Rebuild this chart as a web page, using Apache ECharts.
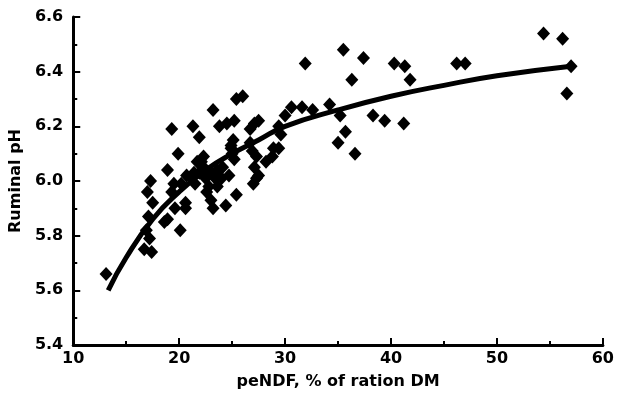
<!DOCTYPE html>
<html>
<head>
<meta charset="utf-8">
<script src="https://cdn.jsdelivr.net/npm/echarts@6/dist/echarts.min.js"></script>
<style>
html,body{margin:0;padding:0;background:#fff;}
#chart{width:617px;height:401px;}
</style>
</head>
<body>
<div id="chart"></div>
<script>
// peNDF (% of ration DM) for each observation
var peNDF = [
  13.1, 16.7, 17.4, 16.9, 17.2, 17.1, 17.3, 17.0, 17.5, 18.6,
  18.9, 20.1, 19.6, 20.6, 18.9, 19.3, 19.9, 19.3, 19.5, 20.2,
  20.7, 21.2, 21.3, 21.9, 23.2, 21.7, 22.3, 21.9, 22.5, 23.0,
  23.4, 22.8, 23.6, 22.3, 21.5, 22.6, 23.0, 23.2, 23.6, 24.0,
  24.4, 25.4, 24.7, 24.1, 25.2, 24.9, 25.1, 23.8, 24.5, 25.2,
  25.4, 26.0, 26.7, 27.5, 27.1, 26.7, 26.9, 27.3, 27.1, 28.2,
  27.3, 27.0, 27.5, 28.9, 28.8, 29.4, 29.4, 29.6, 30.0, 30.6,
  31.6, 32.6, 34.2, 31.9, 35.2, 35.7, 35.0, 36.6, 35.5, 36.3,
  37.4, 38.3, 39.4, 40.3, 41.3, 41.8, 41.2, 46.2, 47.0, 54.4,
  56.2, 57.0, 56.6, 25.0, 24.9, 21.4, 22.1, 20.6
];
// Ruminal pH for each observation
var ruminalPH = [
  5.66, 5.75, 5.74, 5.82, 5.79, 5.87, 6.00, 5.96, 5.92, 5.85,
  5.86, 5.82, 5.90, 5.90, 6.04, 6.19, 6.10, 5.96, 5.99, 5.99,
  6.02, 6.01, 6.20, 6.16, 6.26, 6.07, 6.05, 6.03, 6.01, 6.03,
  6.01, 5.98, 6.04, 6.09, 5.99, 5.96, 5.93, 5.90, 5.98, 6.01,
  5.91, 5.95, 6.02, 6.05, 6.08, 6.12, 6.15, 6.20, 6.21, 6.22,
  6.30, 6.31, 6.19, 6.22, 6.21, 6.14, 6.11, 6.09, 6.05, 6.07,
  6.01, 5.99, 6.02, 6.12, 6.09, 6.12, 6.20, 6.17, 6.24, 6.27,
  6.27, 6.26, 6.28, 6.43, 6.24, 6.18, 6.14, 6.10, 6.48, 6.37,
  6.45, 6.24, 6.22, 6.43, 6.42, 6.37, 6.21, 6.43, 6.43, 6.54,
  6.52, 6.42, 6.32, 6.10, 6.13, 6.03, 6.07, 5.92
];
// fitted curve
var fitX = [13.3, 15, 17.5, 20, 22.5, 25, 27.5, 30, 35, 40, 45, 50, 57];
var fitY = [5.60, 5.72, 5.86, 5.96, 6.04, 6.10, 6.15, 6.20, 6.26, 6.31, 6.35, 6.385, 6.42];

var xMin = 10, xMax = 60, xStep = 10;
var yMin = 5.4, yMax = 6.6, yStep = 0.2;
var xTitle = 'peNDF, % of ration DM';
var yTitle = 'Ruminal pH';

var pts = peNDF.map(function (x, i) { return [x, ruminalPH[i]]; });
var fit = fitX.map(function (x, i) { return [x, fitY[i]]; });

var FONT = 'DejaVu Sans';
var axisCommon = {
  axisLine: { show: true, lineStyle: { color: '#000', width: 3 } },
  axisTick: { show: true, inside: true, length: 7, lineStyle: { color: '#000', width: 2 } },
  minorTick: { show: true, splitNumber: 2, length: 4, lineStyle: { color: '#000', width: 2 } },
  splitLine: { show: false },
  nameTextStyle: { fontFamily: FONT, fontWeight: 'bold', fontSize: 16, color: '#000' }
};

var chart = echarts.init(document.getElementById('chart'), null, { renderer: 'canvas' });
chart.setOption({
  animation: false,
  backgroundColor: '#fff',
  grid: { left: 73, top: 17, width: 535, height: 328, containLabel: false },
  xAxis: Object.assign({}, axisCommon, {
    type: 'value', min: xMin, max: xMax, interval: xStep,
    name: xTitle, nameLocation: 'middle', nameGap: 29,
    axisLabel: { margin: 6, fontFamily: FONT, fontWeight: 'bold', fontSize: 16, color: '#000' }
  }),
  yAxis: Object.assign({}, axisCommon, {
    type: 'value', min: yMin, max: yMax, interval: yStep,
    name: yTitle, nameLocation: 'middle', nameGap: 45,
    axisLabel: { margin: 10, fontFamily: FONT, fontWeight: 'bold', fontSize: 16, color: '#000',
      formatter: function (v) { return v.toFixed(1); } }
  }),
  series: [
    { type: 'scatter', data: pts, symbol: 'diamond', symbolSize: [13, 14],
      itemStyle: { color: '#000', opacity: 1 }, z: 2 },
    { type: 'line', data: fit, smooth: true, showSymbol: false, symbol: 'none',
      lineStyle: { color: '#000', width: 5 }, z: 3 }
  ]
});
</script>
</body>
</html>
